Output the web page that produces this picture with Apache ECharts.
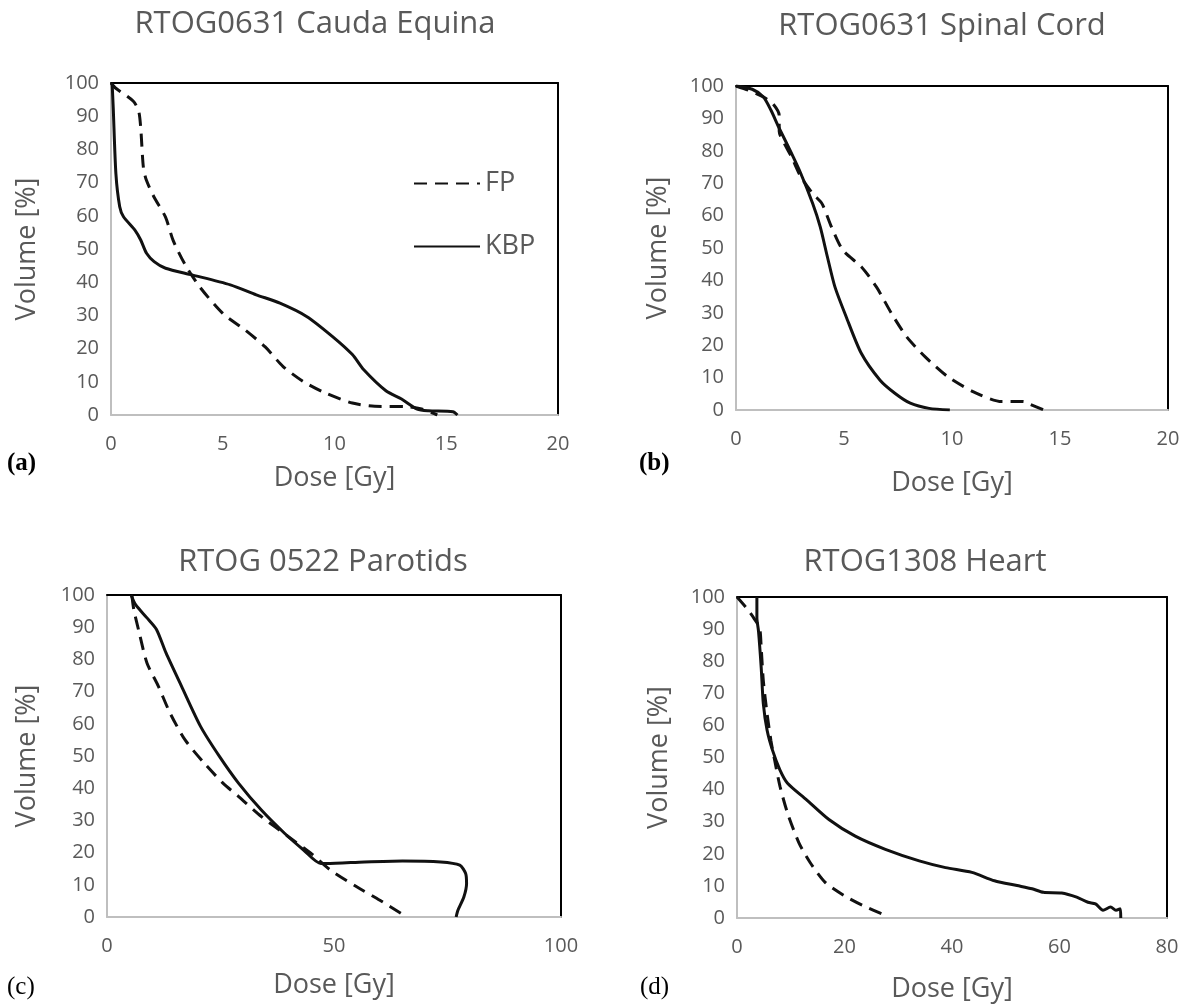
<!DOCTYPE html>
<html>
<head>
<meta charset="utf-8">
<title>DVH comparison</title>
<script src="https://cdn.jsdelivr.net/npm/echarts@6/dist/echarts.min.js"></script>
<style>
    html, body { margin: 0; padding: 0; background: #fff; }
    #chart { width: 1189px; height: 1007px; }
</style>
</head>
<body>
<div id="chart"></div>
<script>
    const panelTitles = ['RTOG0631 Cauda Equina', 'RTOG0631 Spinal Cord', 'RTOG 0522 Parotids', 'RTOG1308 Heart']
    const panelTags = ['(a)', '(b)', '(c)', '(d)']
    const doseMax = [20, 20, 100, 80]
    const doseStep = [5, 5, 50, 20]
    const seriesNames = ['FP', 'KBP']

    // (a) cauda equina
    const caudaFpDose = [0, 0.2, 1.0, 1.24, 1.33, 1.45, 1.59, 1.93, 2.44, 2.78, 3.29, 3.97, 5.0, 6.0, 6.9, 7.7, 8.6, 9.6, 10.8, 11.8, 13.2, 13.9, 14.6]
    const caudaFpVol = [100, 98.5, 94.5, 91.5, 86.5, 74.5, 70.6, 65.6, 59.6, 52.6, 45.6, 38.6, 30.6, 25.6, 20.5, 14.6, 10.1, 6.6, 3.6, 2.6, 2.5, 1.8, 0]
    const caudaKbpDose = [0.05, 0.1, 0.22, 0.39, 0.56, 1.07, 1.33, 1.59, 1.93, 2.44, 3.63, 5.34, 6.5, 7.56, 8.75, 9.9, 10.8, 11.3, 12.3, 13.0, 13.7, 14.2, 15.3, 15.5]
    const caudaKbpVol = [100, 92.5, 72.6, 62.7, 59.7, 55.7, 52.7, 48.7, 46.2, 44.2, 42.2, 39.2, 36.2, 33.7, 29.7, 23.7, 18.2, 13.7, 7.3, 4.8, 1.8, 1.3, 1.0, 0]

    // (b) spinal cord
    const cordFpDose = [0, 0.57, 1.27, 1.7, 2.0, 2.0, 2.32, 2.58, 3.0, 3.55, 3.98, 4.42, 4.95, 5.8, 6.5, 7.2, 7.9, 8.76, 9.8, 11.0, 12.3, 13.3, 13.6, 14.25]
    const cordFpVol = [100, 98.7, 96.6, 94.6, 91, 86, 81.2, 78, 72, 66.8, 63.7, 56.5, 49.3, 44.2, 38, 29.8, 22.6, 16.4, 10.3, 5.6, 2.6, 2.6, 1.8, 0]
    const cordKbpDose = [0, 0.75, 1.27, 1.62, 1.97, 2.5, 3.0, 3.55, 3.9, 4.23, 4.58, 5.1, 5.8, 6.67, 7.37, 8.07, 8.94, 9.9]
    const cordKbpVol = [100, 99, 96.6, 92.5, 87.4, 80.2, 73, 63.7, 56.5, 47.3, 38, 28.8, 17.5, 9.2, 5.1, 2.1, 0.5, 0]

    // (c) parotids
    const parotidFpDose = [5.5, 5.9, 7.1, 8.8, 11.3, 13.9, 17.2, 21.4, 25.6, 29, 34, 39.9, 44.9, 49.2, 55, 60.1, 65.5]
    const parotidFpVol = [99.7, 95.5, 88.3, 78.9, 71.7, 63.3, 55, 47.8, 41.5, 37.4, 31.2, 25, 19.8, 14.6, 9.4, 5.2, 0.5]
    const parotidKbpDose = [5.3, 6.3, 8.8, 10.9, 13, 16.4, 20.6, 24.8, 29, 34, 39.1, 43.3, 47.1, 48.3, 56.7, 65.1, 73.5, 77.7, 79, 79.2, 78.6, 77.3, 76.9]
    const parotidKbpVol = [100, 97, 92.9, 89.3, 82, 71.7, 59.2, 49.8, 41.5, 33.2, 26, 20.8, 16.6, 16.6, 17.1, 17.4, 17.1, 16.1, 13.5, 10.4, 6.2, 2.1, 0]

    // (d) heart
    const heartFpDose = [0, 1.75, 3.1, 4.2, 4.5, 4.9, 5.6, 6.3, 7.0, 8.0, 9.4, 11.5, 13.6, 16.4, 19.9, 23.4, 27.6]
    const heartFpVol = [100, 96.6, 93.5, 90.4, 84.2, 73.9, 63.6, 55.4, 49.2, 41, 32.7, 23.5, 17.3, 11.1, 7, 3.9, 0.8]
    const heartKbpDose = [3.7, 3.7, 4.0, 4.5, 4.9, 5.6, 6.6, 8.0, 9.4, 12.9, 17.1, 22, 27.6, 33.9, 38.8, 43.7, 47.9, 52.1, 54.9, 57, 60.4, 63.2, 65.3, 66.7, 68.1, 69.5, 70.5, 71.3, 71.4]
    const heartKbpVol = [100, 93.5, 89.4, 78.1, 66.7, 58.5, 52.3, 46.1, 42, 36.9, 30.7, 25.5, 21.4, 17.8, 15.7, 14.2, 11.6, 10.1, 9.1, 8, 7.8, 6.5, 4.9, 4.4, 2.4, 3.4, 2.4, 2.9, 0]

    const curves = [
        [[caudaFpDose, caudaFpVol], [caudaKbpDose, caudaKbpVol]],
        [[cordFpDose, cordFpVol], [cordKbpDose, cordKbpVol]],
        [[parotidFpDose, parotidFpVol], [parotidKbpDose, parotidKbpVol]],
        [[heartFpDose, heartFpVol], [heartKbpDose, heartKbpVol]]
    ]

    // layout of each panel (pixels)
    const boxes = [
        { left: 111, top: 83, width: 447, height: 332, titleX: 310, titleY: 4, tagX: 7, tagY: 451, xGap: 50, yGap: 70 },
        { left: 736, top: 86, width: 432, height: 324, titleX: 937, titleY: 6, tagX: 639, tagY: 451, xGap: 60, yGap: 64 },
        { left: 107, top: 595, width: 454, height: 322, titleX: 318, titleY: 542, tagX: 7, tagY: 975, xGap: 55, yGap: 66 },
        { left: 737, top: 597, width: 430, height: 321, titleX: 920, titleY: 542, tagX: 640, tagY: 975, xGap: 58, yGap: 64 }
    ]

    const font = 'Open Sans'
    const grey = '#595959'

    const chart = echarts.init(document.getElementById('chart'))

    const grids = []
    const titles = []
    const xAxes = []
    const yAxes = []
    const series = []
    const tags = []

    boxes.forEach(function (b, i) {
        grids.push({ left: b.left, top: b.top, width: b.width, height: b.height })
        titles.push({
            text: panelTitles[i],
            left: b.titleX,
            top: b.titleY,
            textAlign: 'center',
            textStyle: { color: grey, fontSize: 31, fontWeight: 'normal', fontFamily: font }
        })
        xAxes.push({
            gridIndex: i,
            type: 'value',
            min: 0,
            max: doseMax[i],
            interval: doseStep[i],
            position: 'bottom',
            name: 'Dose [Gy]',
            nameLocation: 'middle',
            nameGap: b.xGap,
            nameTextStyle: { color: grey, fontSize: 27, fontFamily: font },
            axisLine: { show: true, onZero: false, lineStyle: { color: '#bfbfbf', width: 2 } },
            axisTick: { show: false },
            splitLine: { show: false },
            axisLabel: { color: grey, fontSize: 20, margin: 19, fontFamily: font }
        })
        xAxes.push({
            gridIndex: i,
            type: 'value',
            min: 0,
            max: doseMax[i],
            position: 'top',
            axisLine: { show: true, onZero: false, lineStyle: { color: '#000', width: 2 } },
            axisTick: { show: false },
            axisLabel: { show: false },
            splitLine: { show: false }
        })
        yAxes.push({
            gridIndex: i,
            type: 'value',
            min: 0,
            max: 100,
            interval: 10,
            position: 'left',
            name: 'Volume [%]',
            nameLocation: 'middle',
            nameGap: b.yGap,
            nameTextStyle: { color: grey, fontSize: 27, fontFamily: font },
            axisLine: { show: true, onZero: false, lineStyle: { color: '#bfbfbf', width: 2 } },
            axisTick: { show: false },
            splitLine: { show: false },
            axisLabel: { color: grey, fontSize: 20, margin: 12, fontFamily: font }
        })
        yAxes.push({
            gridIndex: i,
            type: 'value',
            min: 0,
            max: 100,
            position: 'right',
            axisLine: { show: true, onZero: false, lineStyle: { color: '#000', width: 2 } },
            axisTick: { show: false },
            axisLabel: { show: false },
            splitLine: { show: false }
        })
        curves[i].forEach(function (c, k) {
            series.push({
                name: seriesNames[k],
                type: 'line',
                xAxisIndex: 2 * i,
                yAxisIndex: 2 * i,
                symbol: 'none',
                smooth: 0.25,
                smoothMonotone: 'none',
                data: c[0].map((d, j) => [d, c[1][j]]),
                lineStyle: { color: '#111', width: 3, type: k === 0 ? [13, 8] : 'solid' },
                itemStyle: { color: '#111' },
                z: 3
            })
        })
        tags.push({
            type: 'text',
            left: b.tagX,
            top: b.tagY,
            style: {
                text: panelTags[i],
                fill: '#000',
                fontSize: 25,
                fontFamily: 'Liberation Serif',
                fontWeight: i < 2 ? 'bold' : 'normal'
            }
        })
    })

    const option = {
        animation: false,
        backgroundColor: '#fff',
        title: titles,
        grid: grids,
        xAxis: xAxes,
        yAxis: yAxes,
        legend: {
            data: seriesNames,
            orient: 'vertical',
            left: 408,
            top: 165,
            itemWidth: 66,
            itemHeight: 14,
            itemGap: 36,
            itemStyle: { opacity: 0 },
            textStyle: { color: grey, fontSize: 27, fontFamily: font }
        },
        graphic: tags,
        series: series
    }
    chart.setOption(option)
</script>
</body>
</html>
